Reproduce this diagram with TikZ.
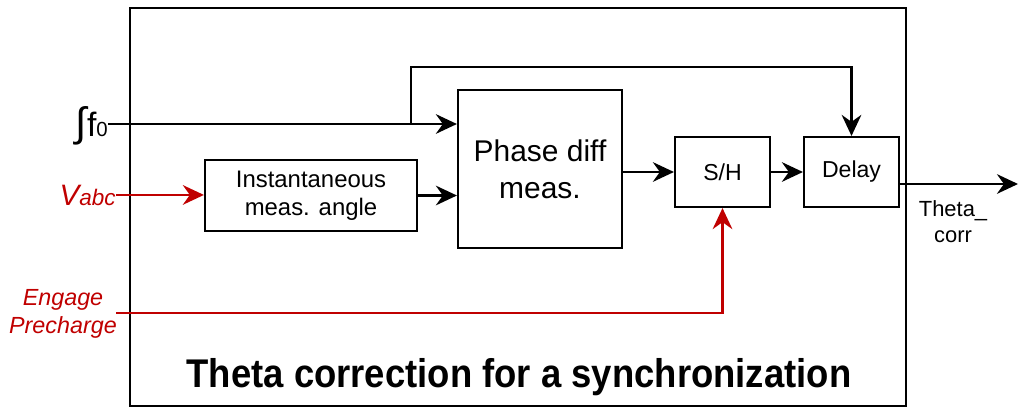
\documentclass[tikz,border=0pt]{standalone}
\usepackage{fontspec}
\usepackage{graphicx}
\setmainfont{Liberation Sans}
\usetikzlibrary{arrows.meta}
\definecolor{sigred}{HTML}{C00000}

\tikzset{
  blk/.style={draw, line width=1.5pt, inner sep=0pt, align=center},
  sig/.style={line width=1.5pt, -{Stealth[length=15pt,width=14pt,inset=5pt]}},
  redsig/.style={sig, color=sigred},
  redlbl/.style={color=sigred, font=\itshape, inner sep=0pt}
}

\begin{document}
\begin{tikzpicture}[x=0.025cm, y=-0.025cm]
\useasboundingbox (0,0) rectangle (1020,408);

% Outer frame
\draw[line width=1.5pt] (130,8) rectangle (906,406);

% Blocks
\node[blk, minimum width=5.3cm, minimum height=1.775cm, font=\fontsize{17}{20}\selectfont]
  (inst) at (311,195.5) {Instantaneous\\meas. angle};
\node[blk, minimum width=4.1cm, minimum height=3.95cm, font=\fontsize{21.3}{26.3}\selectfont]
  (phase) at (540,169) {Phase diff\\meas.};
\node[blk, minimum width=2.375cm, minimum height=1.75cm, font=\fontsize{16.4}{19}\selectfont]
  (sh) at (722.5,172) {S/H};
\node[blk, minimum width=2.375cm, minimum height=1.75cm, font=\fontsize{16.4}{19}\selectfont]
  (delay) at (851.5,172) {Delay};

% Inputs
\coordinate (fin) at (108,124);
\coordinate (tap) at (411,124);
\coordinate (ytop) at (0,67);
\node[anchor=base east, inner sep=0pt, font=\fontsize{24}{28}\selectfont]
  (f0) at (108,136) {{\fontsize{29}{30}\selectfont ∫}f{\fontsize{14.5}{15}\selectfont 0}};
\node[redlbl, anchor=base east] (vabc) at (116,205)
  {{\fontsize{21}{24}\selectfont V}{\fontsize{16}{18}\selectfont abc}};
\node[redlbl, align=center, font=\fontsize{16.6}{20}\selectfont\itshape]
  (eng) at (63,314) {Engage\\Precharge};
\coordinate (engin) at (116,313);

% Output
\coordinate (out) at (1018,184);
\node[align=center, inner sep=0pt, font=\fontsize{15.6}{18.5}\selectfont]
  (theta) at (953,222) {Theta\_\\corr};

% Title
\node[anchor=base, inner sep=0pt, font=\fontsize{28.5}{32}\selectfont\bfseries]
  (title) at (519,387) {\scalebox{0.91}[1]{Theta correction for a synchronization}};

% Connectors
\draw[sig] (fin) -- (fin -| phase.west);
\draw[sig] (tap) |- (delay.north |- ytop) -- (delay.north);
\draw[redsig] (vabc.east) -- (vabc.east -| inst.west);
\draw[sig] (inst.east) -- (inst.east -| phase.west);
\draw[sig] (phase.east |- sh.west) -- (sh.west);
\draw[sig] (sh.east) -- (delay.west);
\draw[sig] (delay.east |- out) -- (out);
\draw[redsig] (engin) -| (sh.south);

\end{tikzpicture}
\end{document}
